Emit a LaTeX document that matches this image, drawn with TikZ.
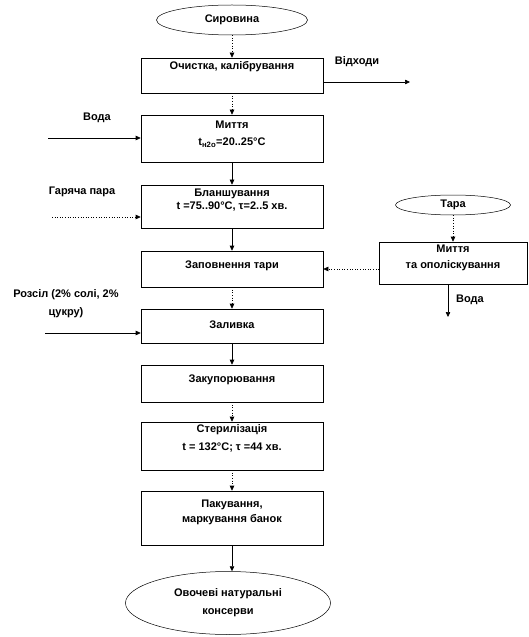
\documentclass[tikz,border=0pt]{standalone}
\usepackage{fontspec}
\setmainfont{Liberation Sans}
\usetikzlibrary{shapes.geometric,arrows.meta,calc}
\begin{document}
\begin{tikzpicture}[x=1bp,y=-1bp,
  procbox/.style={draw, line width=0.6bp, minimum width=182bp, inner sep=0pt},
  txt/.style={align=center, inner sep=0pt, font=\bfseries\fontsize{11bp}{#1}\selectfont},
  txt/.default=14bp,
  oval/.style={ellipse, draw, line width=0.5bp, inner sep=0pt, align=center},
  arr/.style={-{Triangle[length=5bp,width=4.5bp]}, line width=0.6bp},
  darr/.style={arr, dotted}]
\useasboundingbox (0,0) rectangle (529,637);
% main column
\node[oval, minimum width=151bp, minimum height=30bp, font=\bfseries\fontsize{11bp}{14bp}\selectfont] (syr) at (232,20) {Сировина};
\node[procbox, minimum height=35bp] (b1) at (232,75.5) {};
\node[txt] (t1) at (232,67) {Очистка, калібрування};
\node[procbox, minimum height=47bp] (b2) at (232,138.5) {};
\node[txt=17bp] (t2) at (232,134.5) {Миття\\t\textsubscript{н2о}=20..25°C};
\node[procbox, minimum height=43bp] (b3) at (232,206.5) {};
\node[txt=13bp] (t3) at (232,200.5) {Бланшування\\t =75..90°C, τ=2..5 хв.};
\node[procbox, minimum height=36bp] (b4) at (232,269) {};
\node[txt] (t4) at (232,266) {Заповнення тари};
\node[procbox, minimum height=34bp] (b5) at (232,326) {};
\node[txt] (t5) at (232,325) {Заливка};
\node[procbox, minimum height=37bp] (b6) at (232,383.5) {};
\node[txt] (t6) at (232,380) {Закупорювання};
\node[procbox, minimum height=48bp] (b7) at (232,446) {};
\node[txt=18bp] (t7) at (232,438) {Стерилізація\\t = 132°C; τ =44 хв.};
\node[procbox, minimum height=54bp] (b8) at (232,518) {};
\node[txt=15bp] (t8) at (232,512.5) {Пакування,\\маркування банок};
\node[oval, minimum width=205bp, minimum height=63bp, font=\bfseries\fontsize{11bp}{18bp}\selectfont] (ovoch) at (228,603) {Овочеві натуральні\\консерви};
% side branch
\node[oval, minimum width=115bp, minimum height=20bp, font=\bfseries\fontsize{11bp}{14bp}\selectfont] (tara) at (453,205) {Тара};
\node[procbox, minimum width=148bp, minimum height=42bp] (b9) at (453,263) {};
\node[txt=16bp] (t9) at (453,258) {Миття\\та ополіскування};
% labels
\node[txt] (lvid) at (357,62) {Відходи};
\node[txt] (lvoda1) at (97,118) {Вода};
\node[txt] (lpara) at (82,192) {Гаряча пара};
\node[txt=18bp] (lroz) at (66,304) {Розсіл (2\% солі, 2\%\\цукру)};
\node[txt] (lvoda2) at (470,300) {Вода};
% coordinates
\coordinate (vidend) at (410,82);
\coordinate (voda1) at (48,138);
\coordinate (para) at (52,217);
\coordinate (rozs) at (45,333);
\coordinate (m9) at (379,269);
\coordinate (vend2) at (448,317);
% connectors
\draw[darr] (syr.south) -- (b1.north);
\draw[darr] (b1.south) -- (b2.north);
\draw[arr] (b2.south) -- (b3.north);
\draw[arr] (b3.south) -- (b4.north);
\draw[darr] (b4.south) -- (b5.north);
\draw[arr] (b5.south) -- (b6.north);
\draw[darr] (b6.south) -- (b7.north);
\draw[darr] (b7.south) -- (b8.north);
\draw[arr] (b8.south) -- (b8.south |- ovoch.north);
\draw[darr] (tara.south) -- (b9.north);
\draw[darr] (b9.west |- m9) -- (b4.east |- m9);
\draw[arr] (b9.south -| vend2) -- (vend2);
\draw[arr] (b1.east |- vidend) -- (vidend);
\draw[arr] (voda1) -- (b2.west |- voda1);
\draw[darr] (para) -- (b3.west |- para);
\draw[arr] (rozs) -- (b5.west |- rozs);
\end{tikzpicture}
\end{document}
